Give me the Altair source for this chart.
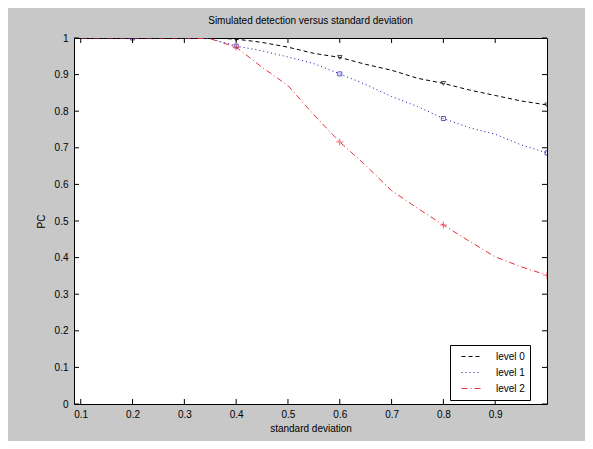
import altair as alt
import pandas as pd

# ---- data ----
sd = [0.1, 0.15, 0.2, 0.25, 0.3, 0.35, 0.4, 0.45, 0.5, 0.55, 0.6, 0.65, 0.7,
      0.75, 0.8, 0.85, 0.9, 0.95, 1.0]
level0 = [1.0, 1.0, 1.0, 1.0, 1.0, 1.0, 0.997, 0.988, 0.975, 0.958, 0.947, 0.928,
          0.912, 0.890, 0.876, 0.858, 0.843, 0.828, 0.817]
level1 = [1.0, 1.0, 1.0, 1.0, 1.0, 0.998, 0.978, 0.965, 0.948, 0.930, 0.902, 0.873,
          0.840, 0.813, 0.780, 0.755, 0.737, 0.708, 0.686]
level2 = [1.0, 1.0, 1.0, 1.0, 1.0, 0.998, 0.975, 0.920, 0.870, 0.790, 0.716, 0.652,
          0.583, 0.535, 0.489, 0.445, 0.402, 0.375, 0.352]
series_names = ["level 0", "level 1", "level 2"]
marker_sd = [0.2, 0.4, 0.6, 0.8, 1.0]
x_ticks = [0.1, 0.2, 0.3, 0.4, 0.5, 0.6, 0.7, 0.8, 0.9]
y_ticks = [0, 0.1, 0.2, 0.3, 0.4, 0.5, 0.6, 0.7, 0.8, 0.9, 1.0]

colors = ["#000000", "#1010b0", "#e8303a"]
dashes = [[4, 3], [1, 3], [6, 3, 1, 3]]
shapes = ["triangle-down", "square", "M-1,0L1,0M0,-1L0,1"]
msizes = [20, 16, 50]

rows = []
for name, vals in zip(series_names, [level0, level1, level2]):
    for x, y in zip(sd, vals):
        rows.append({"sd": x, "pc": y, "series": name})
df = pd.DataFrame(rows)
df_m = df[df["sd"].isin(marker_sd)].rename(columns={"series": "mseries"})

W, H = 473, 366
xs = alt.Scale(domain=[0.087, 1.0], nice=False, zero=False)
ys = alt.Scale(domain=[0, 1], nice=False, zero=False)
xaxis = alt.Axis(title="standard deviation", values=x_ticks, format=".1~f",
                 tickSize=0, labelPadding=5, titlePadding=4, labelOverlap=False)
yaxis = alt.Axis(title="PC", values=y_ticks, format=".1~f",
                 tickSize=0, labelPadding=6, titlePadding=8, labelOverlap=False)

leg = alt.Legend(title=None, symbolType="stroke")
color = alt.Color("series:N", scale=alt.Scale(domain=series_names, range=colors), legend=leg)
dash = alt.StrokeDash("series:N", scale=alt.Scale(domain=series_names, range=dashes), legend=leg)

lines = alt.Chart(df).mark_line(strokeWidth=1, clip=True).encode(
    x=alt.X("sd:Q", scale=xs, axis=xaxis),
    y=alt.Y("pc:Q", scale=ys, axis=yaxis),
    color=color,
    strokeDash=dash,
)

marker_layers = []
for name, col, shp, ms in zip(series_names, colors, shapes, msizes):
    marker_layers.append(
        alt.Chart(df_m).transform_filter(alt.datum.mseries == name)
        .mark_point(size=ms, filled=False, strokeWidth=1, clip=True, shape=shp, stroke=col)
        .encode(x=alt.X("sd:Q", scale=xs, axis=xaxis), y=alt.Y("pc:Q", scale=ys, axis=yaxis))
    )

xt = pd.DataFrame({"v": x_ticks})
yt = pd.DataFrame({"v": y_ticks})
tb = alt.Chart(xt).mark_rule(color="black", strokeWidth=1).encode(
    x=alt.X("v:Q", scale=xs, axis=xaxis), y=alt.value(H), y2=alt.value(H - 5))
tt = alt.Chart(xt).mark_rule(color="black", strokeWidth=1).encode(
    x=alt.X("v:Q", scale=xs, axis=xaxis), y=alt.value(0), y2=alt.value(5))
tl = alt.Chart(yt).mark_rule(color="black", strokeWidth=1).encode(
    y=alt.Y("v:Q", scale=ys, axis=yaxis), x=alt.value(0), x2=alt.value(5))
tr = alt.Chart(yt).mark_rule(color="black", strokeWidth=1).encode(
    y=alt.Y("v:Q", scale=ys, axis=yaxis), x=alt.value(W), x2=alt.value(W - 5))

chart = alt.layer(lines, *marker_layers, tb, tt, tl, tr).properties(
    width=W, height=H,
    title=alt.Title("Simulated detection versus standard deviation",
                    fontSize=10, fontWeight="normal", font="Liberation Sans",
                    color="black", offset=7),
    background="#c8c8c8",
    padding={"left": 66, "top": 30, "right": 38, "bottom": 37},
    autosize=alt.AutoSizeParams(type="none"),
).configure_view(
    fill="white", stroke="black", strokeWidth=1
).configure_axis(
    grid=False, domain=False, labelFont="Liberation Sans", titleFont="Liberation Sans",
    labelFontSize=10, titleFontSize=10, labelColor="black", titleColor="black",
    titleFontWeight="normal",
).configure_legend(
    orient="none", legendX=376, legendY=307, fillColor="white", strokeColor="black",
    padding=5, symbolSize=400, symbolStrokeWidth=1, symbolOffset=6,
    labelFont="Liberation Sans", labelFontSize=10, labelColor="black", rowPadding=3,
    labelOffset=14, clipHeight=13,
)

chart.save("out.html", embed_options={"renderer": "svg", "actions": False})
